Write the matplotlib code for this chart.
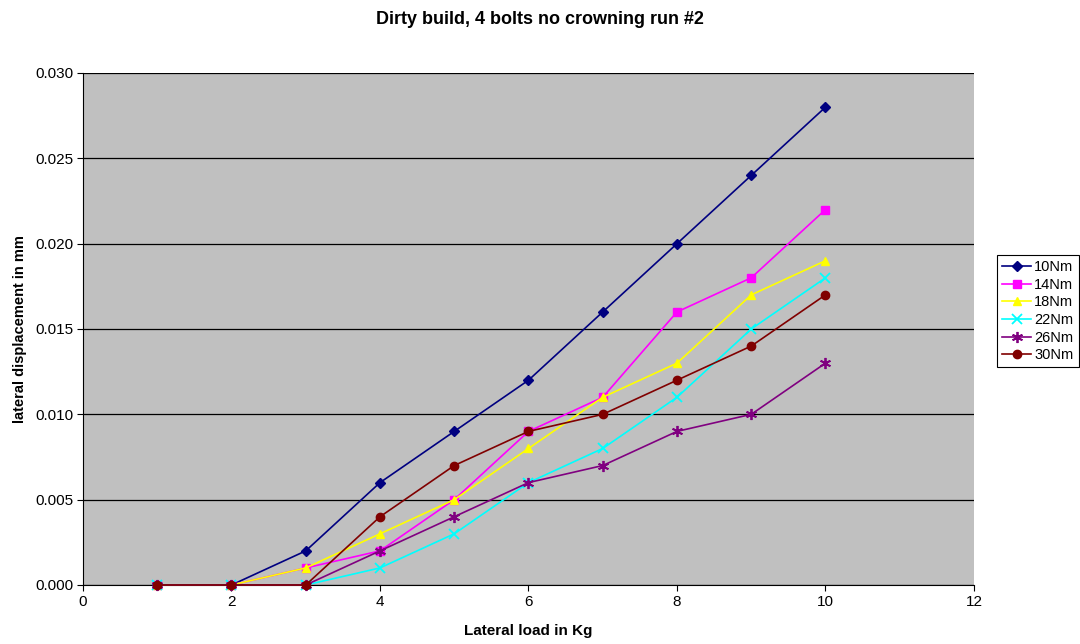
import matplotlib
matplotlib.use("Agg")
import matplotlib.pyplot as plt
from matplotlib.ticker import FormatStrFormatter, MultipleLocator

plt.rcParams['font.family'] = ['Liberation Sans', 'DejaVu Sans']

x = [1, 2, 3, 4, 5, 6, 7, 8, 9, 10]
s10 = [0, 0, 0.002, 0.006, 0.009, 0.012, 0.016, 0.020, 0.024, 0.028]
s14 = [0, 0, 0.001, 0.002, 0.005, 0.009, 0.011, 0.016, 0.018, 0.022]
s18 = [0, 0, 0.001, 0.003, 0.005, 0.008, 0.011, 0.013, 0.017, 0.019]
s22 = [0, 0, 0, 0.001, 0.003, 0.006, 0.008, 0.011, 0.015, 0.018]
s26 = [0, 0, 0, 0.002, 0.004, 0.006, 0.007, 0.009, 0.010, 0.013]
s30 = [0, 0, 0, 0.004, 0.007, 0.009, 0.010, 0.012, 0.014, 0.017]
labels = ['10Nm', '14Nm', '18Nm', '22Nm', '26Nm', '30Nm']
series = [s10, s14, s18, s22, s26, s30]
colors = ['#000080', '#FF00FF', '#FFFF00', '#00FFFF', '#800080', '#800000']
markers = ['D', 's', '^', 'x', (6, 2, 0), 'o']
msizes = [5, 6, 6, 7, 8, 6]

fig = plt.figure(figsize=(10.8, 6.44), dpi=100)
ax = fig.add_axes([83 / 1080, 1 - 585 / 644, 891 / 1080, 512 / 644])
ax.set_facecolor('#C0C0C0')

for ys, lab, c, m, ms in zip(series, labels, colors, markers, msizes):
    ax.plot(x, ys, color=c, marker=m, markersize=ms, linewidth=1.2, label=lab,
            markeredgecolor=c, markeredgewidth=1.3 if m in ('x', (6, 2, 0)) else 1.0,
            clip_on=False, zorder=3)

ax.set_xlim(0, 12)
ax.set_ylim(0, 0.030)
ax.xaxis.set_major_locator(MultipleLocator(2))
ax.yaxis.set_major_locator(MultipleLocator(0.005))
ax.yaxis.set_major_formatter(FormatStrFormatter('%.3f'))
ax.grid(axis='y', color='black', linewidth=0.9)
ax.set_axisbelow(True)
for side in ['top', 'right']:
    ax.spines[side].set_visible(False)
for side in ['left', 'bottom']:
    ax.spines[side].set_color('black')
ax.tick_params(direction='out', length=4, labelsize=11, colors='black', pad=3)

ax.set_xlabel('Lateral load in Kg', fontsize=11, fontweight='bold', labelpad=11)
ax.set_ylabel('lateral displacement in mm', fontsize=10.5, fontweight='bold', labelpad=6)
fig.text(0.5, 1 - 19 / 644, 'Dirty build, 4 bolts no crowning run #2', ha='center', va='center',
         fontsize=13, fontweight='bold')

leg = fig.legend(loc='upper left', bbox_to_anchor=(997 / 1080, 1 - 255 / 644), fontsize=10.5,
                 frameon=True, fancybox=False, edgecolor='black', framealpha=1,
                 borderpad=0.35, labelspacing=0.25, handlelength=2.0, handletextpad=0.2,
                 borderaxespad=0)
leg.get_frame().set_linewidth(0.8)

fig.savefig('out.png', dpi=100)
